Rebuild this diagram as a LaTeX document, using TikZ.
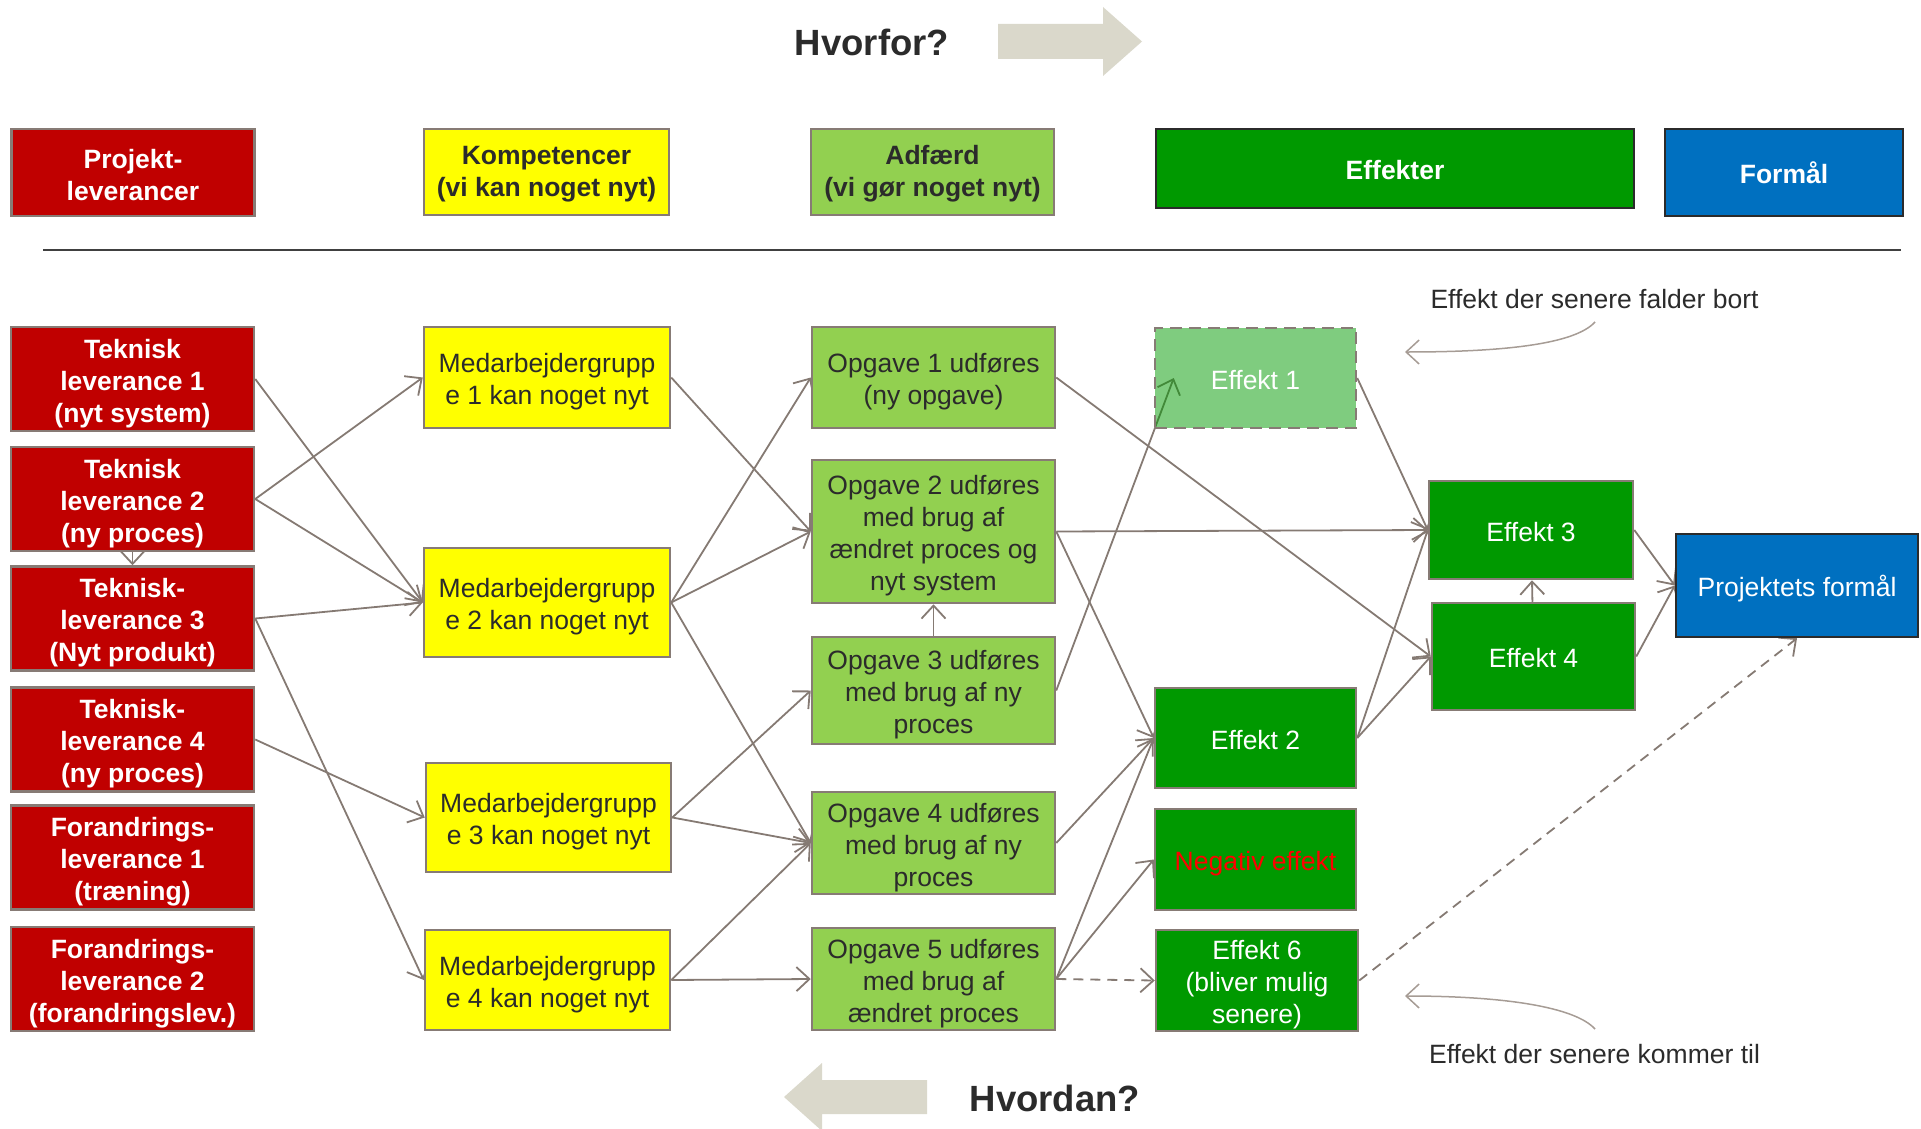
\documentclass[tikz,border=0pt]{standalone}
\usepackage{fontspec}
\setmainfont{Liberation Sans}
\usepackage{tikz}
\usetikzlibrary{arrows.meta}
\usetikzlibrary{backgrounds}

\definecolor{levred}{HTML}{C00000}
\definecolor{kompyellow}{HTML}{FFFF00}
\definecolor{adfgreen}{HTML}{92D050}
\definecolor{effgreen}{HTML}{009900}
\definecolor{formblue}{HTML}{0070C0}
\definecolor{boxgray}{HTML}{877B75}
\definecolor{linegray}{HTML}{857A73}
\definecolor{notegray}{HTML}{A69C95}
\definecolor{textdark}{HTML}{2B2B2B}
\definecolor{arrowbeige}{HTML}{DAD8CB}
\definecolor{sepgray}{HTML}{404040}
\newcommand{\boxfont}{\fontsize{26.5}{32}\selectfont}
\newcommand{\bigfont}{\fontsize{36.5}{44}\selectfont}
\newcommand{\topstrut}{\rule{0pt}{28pt}}
\newcommand{\headstrut}{\rule{0pt}{23.5pt}}

\tikzset{
  box node/.style={rectangle,draw=boxgray,line width=2.5pt,inner sep=0pt,align=center,font=\boxfont},
  one line/.style={text height=28pt,text depth=6pt},
  lev node/.style={box node,fill=levred,text=white,font={\boxfont\bfseries},minimum width=243pt,minimum height=104pt},
  komp node/.style={box node,fill=kompyellow,text=textdark,minimum width=246pt},
  adf node/.style={box node,fill=adfgreen,text=textdark,minimum width=243pt},
  eff node/.style={box node,fill=effgreen,text=white,minimum width=202pt,minimum height=101pt},
  form node/.style={box node,draw=textdark,fill=formblue,text=white},
  note/.style={text=textdark,font=\boxfont,inner sep=0pt},
  link/.style={draw=linegray,line width=1.8pt},
  later link/.style={link,dash pattern=on 10pt off 7pt},
  note arrow/.style={draw=notegray,line width=1.5pt}
}

\begin{document}
\begin{tikzpicture}[x=1pt,y=-1pt,->,>={Straight Barb[length=13pt,width=24pt]}]
  \useasboundingbox (0,0) rectangle (1921,1129);

  % top and bottom
  \fill[arrowbeige] (998,24) -- (1103,24) -- (1103,7) -- (1142,41.5) -- (1103,76) -- (1103,59) -- (998,59) -- cycle;
  \fill[arrowbeige] (927,1080) -- (822,1080) -- (822,1063) -- (784,1097) -- (822,1131) -- (822,1114) -- (927,1114) -- cycle;
  \node[font={\bigfont\bfseries},text=textdark] (hvorfor) at (872,42) {Hvorfor?};
  \node[font={\bigfont\bfseries},text=textdark] (hvordan) at (1055,1098) {Hvordan?};

  % headings
  \node[lev node,minimum height=87pt] (hlev) at (133,172.5) {\headstrut Projekt-\\leverancer};
  \node[komp node,font={\boxfont\bfseries},minimum width=245pt,minimum height=86pt] (hkomp) at (546.5,172) {\headstrut Kompetencer\\(vi kan noget nyt)};
  \node[adf node,font={\boxfont\bfseries},minimum height=86pt] (hadf) at (932.5,172) {\headstrut Adfærd\\(vi gør noget nyt)};
  \node[eff node,one line,draw=textdark,font={\boxfont\bfseries},minimum width=478pt,minimum height=79pt] (heff) at (1395,168.5) {Effekter};
  \node[form node,one line,font={\boxfont\bfseries},minimum width=238pt,minimum height=87pt] (hform) at (1784,172.5) {Formål};
  \draw[-,line width=2.5pt,sepgray] (43,250) -- (1901,250);

  % leverancer
  \node[lev node] (t1) at (132.5,379) {\topstrut Teknisk\\leverance 1\\(nyt system)};
  \node[lev node] (t2) at (132.5,499) {\topstrut Teknisk\\leverance 2\\(ny proces)};
  \node[lev node] (t3) at (132.5,618.5) {\topstrut Teknisk-\\leverance 3\\(Nyt produkt)};
  \node[lev node] (t4) at (132.5,739.5) {\topstrut Teknisk-\\leverance 4\\(ny proces)};
  \node[lev node] (f1) at (132.5,857.5) {\topstrut Forandrings-\\leverance 1\\(træning)};
  \node[lev node] (f2) at (132.5,979) {\topstrut Forandrings-\\leverance 2\\(forandringslev.)};

  % kompetencer
  \node[komp node,minimum height=101pt] (m1) at (547,377.5) {\topstrut Medarbejdergrupp\\e 1 kan noget nyt};
  \node[komp node,minimum height=109pt] (m2) at (547,602.5) {\topstrut Medarbejdergrupp\\e 2 kan noget nyt};
  \node[komp node,minimum width=245pt,minimum height=109pt] (m3) at (548.5,817.5) {\topstrut Medarbejdergrupp\\e 3 kan noget nyt};
  \node[komp node,minimum width=245pt,minimum height=100pt] (m4) at (547.5,980) {\topstrut Medarbejdergrupp\\e 4 kan noget nyt};

  % adfaerd
  \node[adf node,minimum height=101pt] (o1) at (933.5,377.5) {\topstrut Opgave 1 udføres\\(ny opgave)};
  \node[adf node,minimum height=143pt] (o2) at (933.5,531.5) {\topstrut Opgave 2 udføres\\med brug af\\ændret proces og\\nyt system};
  \node[adf node,minimum height=107pt] (o3) at (933.5,690.5) {\topstrut Opgave 3 udføres\\med brug af ny\\proces};
  \node[adf node,minimum height=102pt] (o4) at (933.5,843) {\topstrut Opgave 4 udføres\\med brug af ny\\proces};
  \node[adf node,minimum height=102pt] (o5) at (933.5,979) {\topstrut Opgave 5 udføres\\med brug af\\ændret proces};

  % effekter
  \node[eff node,one line,minimum width=201pt,minimum height=100pt,fill opacity=0.5,text opacity=1,dash pattern=on 12pt off 7pt] (e1) at (1255.5,378) {Effekt 1};
  \node[eff node,one line,minimum width=201pt,minimum height=100pt] (e2) at (1255.5,738) {Effekt 2};
  \node[eff node,one line,minimum width=201pt,text=red] (neg) at (1255.5,859.5) {Negativ effekt};
  \node[eff node] (e6) at (1257,980.5) {\topstrut Effekt 6\\(bliver mulig\\senere)};
  \node[eff node,one line,minimum width=204pt,minimum height=98pt] (e3) at (1531,530) {Effekt 3};
  \node[eff node,one line,minimum width=203pt,minimum height=107pt] (e4) at (1533.5,656.5) {Effekt 4};
  \node[form node,one line,minimum width=242pt,minimum height=103pt] (pf) at (1797,585.5) {Projektets formål};
  \coordinate (e1in) at ([xshift=20pt]e1.west);

  % noter
  \node[note] (fbort) at (1594.5,299) {Effekt der senere falder bort};
  \node[note] (ktil) at (1594.5,1054) {Effekt der senere kommer til};
  \coordinate (fbortstart) at (1595,322);
  \coordinate (fbortend) at (1405,352);
  \coordinate (ktilstart) at (1595,1029);
  \coordinate (ktilend) at (1405,996);
  \draw[note arrow] (fbortstart) .. controls +(-20,22) and +(100,0) .. (fbortend);
  \draw[note arrow] (ktilstart) .. controls +(-20,-22) and +(100,0) .. (ktilend);

  \begin{scope}[on background layer]
    \draw[link] (t1.east) -- (m2.west);
    \draw[link] (t2.east) -- (m1.west);
    \draw[link] (t2.east) -- (m2.west);
    \draw[link] (t2) -- (t3);
    \draw[link] (t3.east) -- (m2.west);
    \draw[link] (t3.east) -- (m4.west);
    \draw[link] (t4.east) -- (m3.west);
    \draw[link] (m1.east) -- (o2.west);
    \draw[link] (m2.east) -- (o1.west);
    \draw[link] (m2.east) -- (o2.west);
    \draw[link] (m2.east) -- (o4.west);
    \draw[link] (m3.east) -- (o3.west);
    \draw[link] (m3.east) -- (o4.west);
    \draw[link] (m4.east) -- (o4.west);
    \draw[link] (m4.east) -- (o5.west);
    \draw[link] (o3) -- (o2);
    \draw[link] (o1.east) -- (e4.west);
    \draw[link] (o2.east) -- (e3.west);
    \draw[link] (o2.east) -- (e2.west);
    \draw[link] (o3.east) -- (e1in);
    \draw[link] (o4.east) -- (e2.west);
    \draw[link] (o5.east) -- (e2.west);
    \draw[link] (o5.east) -- (neg.west);
    \draw[later link] (o5.east) -- (e6.west);
    \draw[link] (e1.east) -- (e3.west);
    \draw[link] (e2.east) -- (e3.west);
    \draw[link] (e2.east) -- (e4.west);
    \draw[link] (e4) -- (e3);
    \draw[link] (e3.east) -- (pf.west);
    \draw[link] (e4.east) -- (pf.west);
    \draw[later link] (e6.east) -- (pf.south);
  \end{scope}
\end{tikzpicture}
\end{document}
